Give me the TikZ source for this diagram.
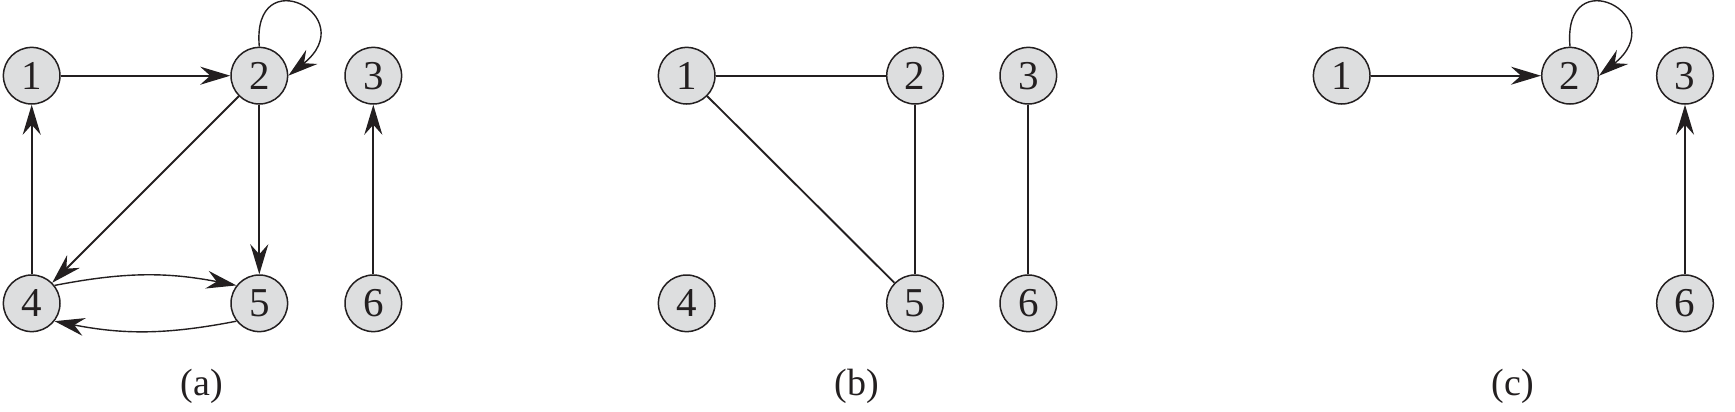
\documentclass[tikz,border=0pt]{standalone}
\usepackage{fontspec}
\setmainfont{Liberation Serif}
\usetikzlibrary{arrows.meta}
\definecolor{ink}{RGB}{35,31,32}
\definecolor{nodefill}{RGB}{221,222,223}
\tikzset{
  vtx/.style={circle,draw=ink,line width=0.75pt,fill=nodefill,minimum size=28.3pt,inner sep=0pt,
    font=\fontsize{20.5}{24}\selectfont,text=ink},
  edgeline/.style={draw=ink,line width=0.95pt},
  arc/.style={edgeline,-{Stealth[length=15pt,width=9pt,inset=5pt]}},
  thinarc/.style={draw=ink,line width=0.7pt,-{Stealth[length=15pt,width=9pt,inset=5pt]}},
  caption/.style={font=\fontsize{19}{22}\selectfont,text=ink}
}
\begin{document}
\begin{tikzpicture}[x=0.5pt,y=-0.5pt]
\useasboundingbox (0,0) rectangle (1735,412);
% (a)
\node[vtx] (a1) at (31.7,75.7) {1};
\node[vtx] (a2) at (259.3,75.7) {2};
\node[vtx] (a3) at (373.3,75.7) {3};
\node[vtx] (a4) at (31.7,303.3) {4};
\node[vtx] (a5) at (259.3,303.3) {5};
\node[vtx] (a6) at (373.3,303.3) {6};
\node[caption] (la) at (201.7,386.7) {(a)};
\draw[arc] (a1) -- (a2);
\draw[arc] (a4) -- (a1);
\draw[arc] (a2) -- (a4);
\draw[arc] (a2) -- (a5);
\draw[arc] (a6) -- (a3);
\draw[thinarc] (a4.38) to[bend left=11] (a5.142);
\draw[thinarc] (a5.218) to[bend left=11] (a4.-38);
\draw[thinarc] (a2.north) .. controls +(-8,-88) and +(75,-60) .. (a2.east);
% (b)
\node[vtx] (b1) at (686.7,75.7) {1};
\node[vtx] (b2) at (915,75.7) {2};
\node[vtx] (b3) at (1028.3,75.7) {3};
\node[vtx] (b4) at (686.7,303.3) {4};
\node[vtx] (b5) at (915,303.3) {5};
\node[vtx] (b6) at (1028.3,303.3) {6};
\node[caption] (lb) at (856.7,386.7) {(b)};
\draw[edgeline] (b1) -- (b2);
\draw[edgeline] (b1) -- (b5);
\draw[edgeline] (b2) -- (b5);
\draw[edgeline] (b3) -- (b6);
% (c)
\node[vtx] (c1) at (1341.7,75.7) {1};
\node[vtx] (c2) at (1570,75.7) {2};
\node[vtx] (c3) at (1685,75.7) {3};
\node[vtx] (c6) at (1685,303.3) {6};
\node[caption] (lc) at (1512.7,386.7) {(c)};
\draw[arc] (c1) -- (c2);
\draw[arc] (c6) -- (c3);
\draw[thinarc] (c2.north) .. controls +(-8,-88) and +(75,-60) .. (c2.east);
\end{tikzpicture}
\end{document}
